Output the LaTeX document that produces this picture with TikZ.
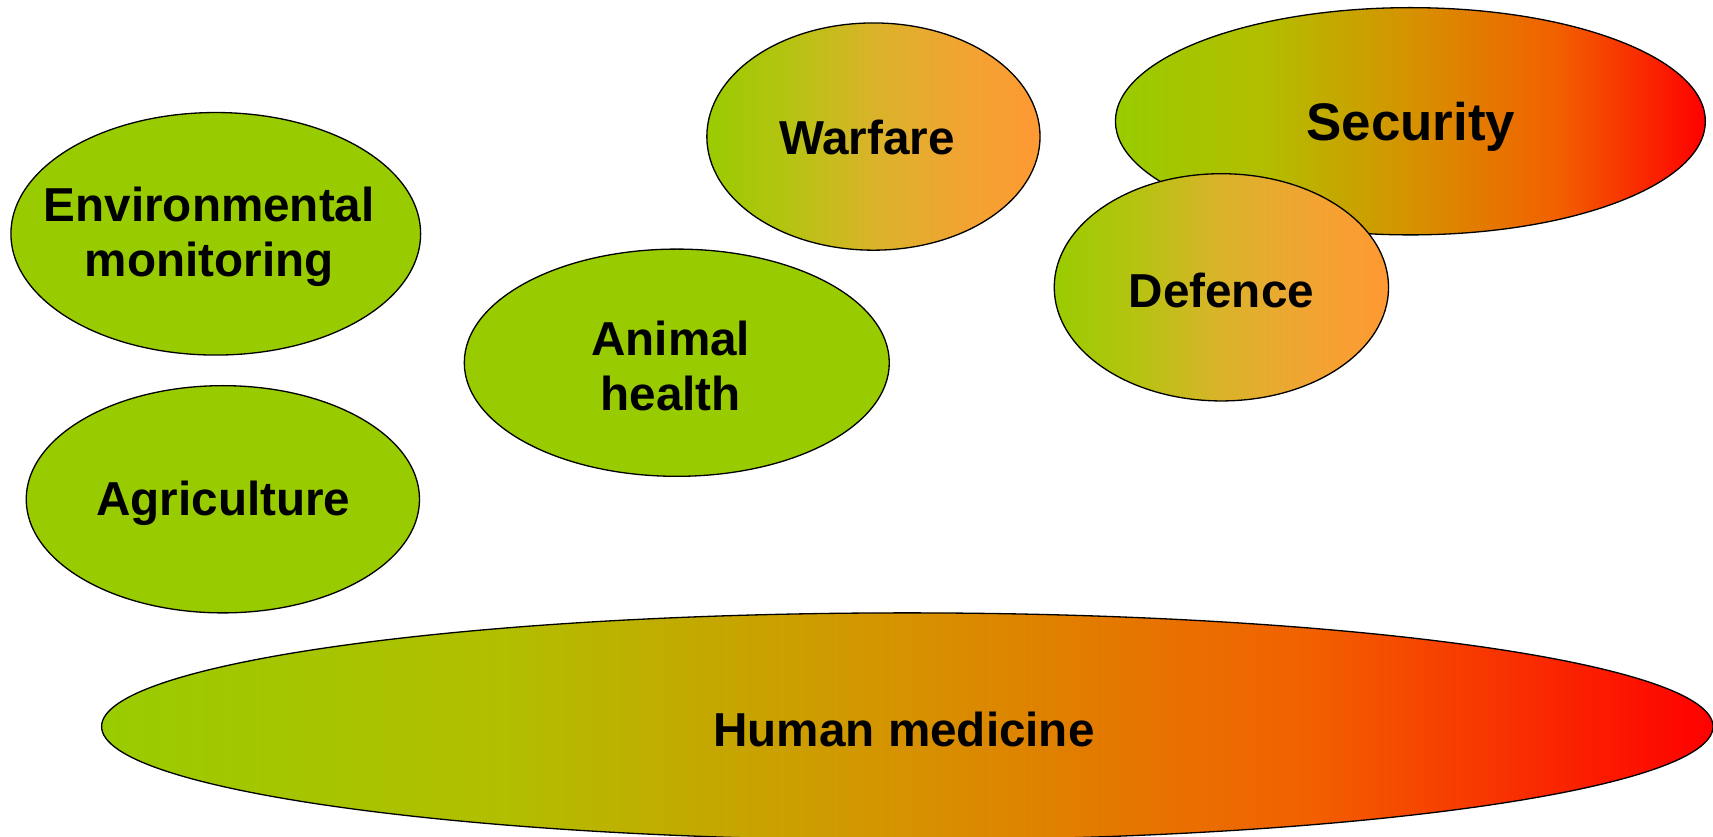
\documentclass[tikz,border=0pt]{standalone}
\usepackage{fontspec}
\setmainfont{Liberation Sans}
\usetikzlibrary{shapes.geometric}
\definecolor{lgreen}{RGB}{153,204,0}
\definecolor{hA}{RGB}{178,190,0}
\definecolor{hB}{RGB}{214,146,0}
\definecolor{hC}{RGB}{242,96,0}
\definecolor{lred}{RGB}{255,0,0}
\definecolor{wA}{RGB}{182,195,18}
\definecolor{wB}{RGB}{218,179,42}
\definecolor{wC}{RGB}{240,165,50}
\definecolor{lorange}{RGB}{255,153,51}
\pgfdeclarehorizontalshading{greenred}{100bp}{color(0bp)=(lgreen); color(25bp)=(lgreen); color(37.5bp)=(hA); color(50bp)=(hB); color(62.5bp)=(hC); color(75bp)=(lred); color(100bp)=(lred)}
\pgfdeclarehorizontalshading{greenorange}{100bp}{color(0bp)=(lgreen); color(25bp)=(lgreen); color(37.5bp)=(wA); color(50bp)=(wB); color(62.5bp)=(wC); color(75bp)=(lorange); color(100bp)=(lorange)}
\tikzset{
  blob/.style={ellipse, draw=black, line width=1.2pt, inner sep=0pt},
  plain/.style={blob, fill=lgreen},
  warm/.style={blob, shading=greenorange, shading angle=0},
  hot/.style={blob, shading=greenred, shading angle=0},
  lbl/.style={inner sep=0pt, align=center, font=\bfseries\fontsize{43.6}{50}\selectfont},
  biglbl/.style={lbl, font=\bfseries\fontsize{48.4}{55}\selectfont},
}
\begin{document}
\begin{tikzpicture}[x=1pt,y=-1pt]
\useasboundingbox (0,0) rectangle (1568,766);
\node[plain, minimum width=375, minimum height=222] (env) at (197.5,214) {};
\node[lbl] (envt) at (191.5,217) {Environmental\\monitoring};
\node[plain, minimum width=360, minimum height=208] (agr) at (204,457) {};
\node[lbl] (agrt) at (204.5,461) {Agriculture};
\node[plain, minimum width=389, minimum height=208] (ani) at (619.5,332) {};
\node[lbl] (anit) at (614,335) {Animal\\health};
\node[warm, minimum width=305, minimum height=208] (war) at (799.5,125) {};
\node[lbl] (wart) at (793.5,126) {Warfare};
\node[hot, minimum width=540, minimum height=208] (sec) at (1291,111) {};
\node[biglbl] (sect) at (1291.5,116) {Security};
\node[warm, minimum width=306, minimum height=208] (def) at (1118,263) {};
\node[lbl] (deft) at (1118,266) {Defence};
\node[hot, minimum width=1475, minimum height=208] (hum) at (830.5,665) {};
\node[lbl] (humt) at (827.5,668) {Human medicine};
\end{tikzpicture}
\end{document}
